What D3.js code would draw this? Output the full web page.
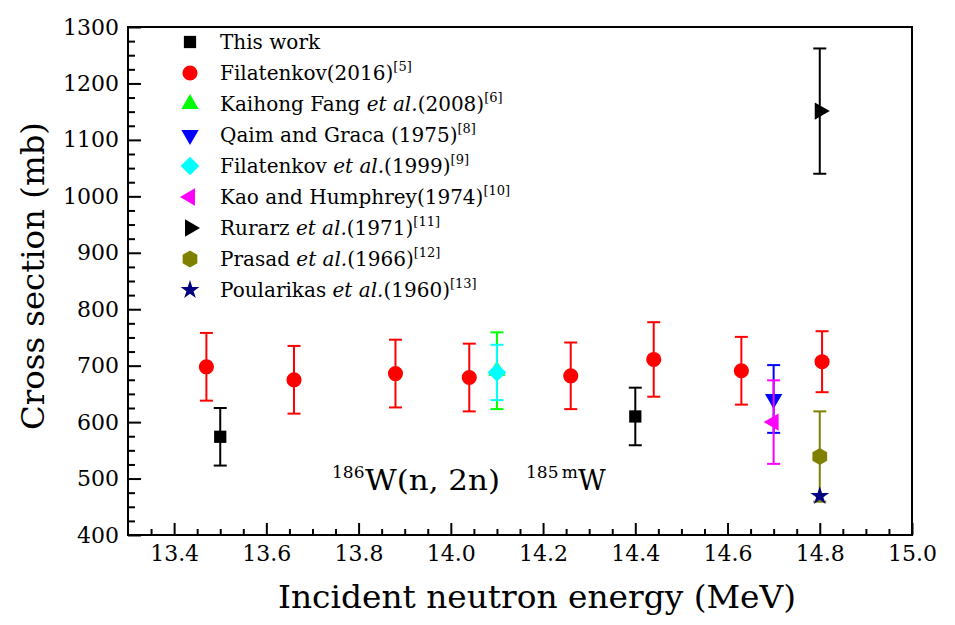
<!DOCTYPE html>
<html><head><meta charset="utf-8">
<script src="https://cdn.jsdelivr.net/npm/d3@7"></script>
<style>body{margin:0;background:#fff}svg{display:block}</style>
</head><body>
<svg id="c" width="955" height="625"></svg>
<script>
// ---------- data ----------
const xMajorTicks = [13.4, 13.6, 13.8, 14.0, 14.2, 14.4, 14.6, 14.8, 15.0];
const yMajorTicks = [400, 500, 600, 700, 800, 900, 1000, 1100, 1200, 1300];

const thisWorkE = [13.5, 14.4];
const thisWorkV = [574, 610];
const thisWorkErr = [51, 51];

const filat2016E = [13.47, 13.66, 13.88, 14.04, 14.26, 14.44, 14.63, 14.805];
const filat2016V = [698, 675, 686, 679, 682, 711, 691, 707];
const filat2016Err = [60, 60, 60, 60, 59, 66, 60, 54];

const fang2008E = [14.1];
const fang2008V = [691];
const fang2008Err = [68];

const qaim1975E = [14.7];
const qaim1975V = [641];
const qaim1975Err = [60];

const filat1999E = [14.1];
const filat1999V = [688];
const filat1999Err = [49];

const kao1974E = [14.7];
const kao1974V = [600];
const kao1974Err = [74];

const rurarz1971E = [14.8];
const rurarz1971V = [1151];
const rurarz1971Err = [111];

const prasad1966E = [14.8];
const prasad1966V = [539];
const prasad1966Err = [80];

const poularikas1960E = [14.8];
const poularikas1960V = [469];
const poularikas1960Err = [0];

const legendNames = [
  ["This work", "", "", ""],
  ["Filatenkov(2016)", "", "", "[5]"],
  ["Kaihong Fang ", "et al.", "(2008)", "[6]"],
  ["Qaim and Graca (1975)", "", "", "[8]"],
  ["Filatenkov ", "et al.", "(1999)", "[9]"],
  ["Kao and Humphrey(1974)", "", "", "[10]"],
  ["Rurarz ", "et al.", "(1971)", "[11]"],
  ["Prasad ", "et al.", "(1966)", "[12]"],
  ["Poularikas ", "et al.", "(1960)", "[13]"]
];

// ---------- setup ----------
const svg = d3.select("#c");
const L = 128, R = 912, T = 27, B = 535;
const x = d3.scaleLinear().domain([13.3, 15.0]).range([L, R]);
const y = d3.scaleLinear().domain([400, 1300]).range([B, T]);
const FONT = "DejaVu Serif";

svg.append("rect").attr("width", 955).attr("height", 625).attr("fill", "#fff");

// minor ticks
const xMinor = d3.range(13.35, 15.0, 0.05).filter(v => !xMajorTicks.some(m => Math.abs(m - v) < 1e-6));
const yMinor = d3.range(425, 1300, 25).filter(v => v % 100 !== 0);

const gx = svg.append("g").attr("transform", `translate(0,${B})`);
gx.call(d3.axisBottom(x).tickValues(xMajorTicks).tickSize(-12).tickPadding(10).tickFormat(d3.format(".1f")));
const gx2 = svg.append("g").attr("transform", `translate(0,${B})`);
gx2.call(d3.axisBottom(x).tickValues(xMinor).tickSize(-6).tickFormat(""));

const gy = svg.append("g").attr("transform", `translate(${L},0)`);
gy.call(d3.axisLeft(y).tickValues(yMajorTicks).tickSize(-13).tickPadding(9).tickFormat(d3.format("d")));
const gy2 = svg.append("g").attr("transform", `translate(${L},0)`);
gy2.call(d3.axisLeft(y).tickValues(yMinor).tickSize(-7).tickFormat(""));

svg.selectAll(".domain").remove();
svg.selectAll(".tick line").attr("stroke", "#000").attr("stroke-width", 2);
svg.selectAll(".tick text").attr("font-family", FONT).attr("font-size", 22).attr("fill", "#000");

// frame
svg.append("rect").attr("x", L).attr("y", T).attr("width", R - L).attr("height", B - T)
  .attr("fill", "none").attr("stroke", "#000").attr("stroke-width", 2);

// axis titles
svg.append("text").attr("x", 537).attr("y", 608).attr("text-anchor", "middle")
  .attr("font-family", FONT).attr("font-size", 32).attr("textLength", 518)
  .attr("lengthAdjust", "spacingAndGlyphs").text("Incident neutron energy (MeV)");
svg.append("text").attr("transform", "translate(33,276) rotate(-90)").attr("text-anchor", "middle")
  .attr("dominant-baseline", "central")
  .attr("font-family", FONT).attr("font-size", 32).attr("textLength", 308)
  .attr("lengthAdjust", "spacingAndGlyphs").text("Cross section (mb)");

// ---------- markers ----------
const hexPath = r => {
  const pts = d3.range(6).map(i => {
    const a = Math.PI / 2 + i * Math.PI / 3;
    return [r * Math.cos(a), r * Math.sin(a)];
  });
  return "M" + pts.map(p => p.join(",")).join("L") + "Z";
};
const markers = [
  { p: d3.symbol(d3.symbolSquare, 150)(), rot: 0, color: "#000000" },
  { p: d3.symbol(d3.symbolCircle, 180)(), rot: 0, color: "#ff0000" },
  { p: d3.symbol(d3.symbolTriangle, 130)(), rot: 0, color: "#00ff00" },
  { p: d3.symbol(d3.symbolTriangle, 130)(), rot: 180, color: "#0000ff" },
  { p: d3.symbol(d3.symbolSquare, 175)(), rot: 45, color: "#00ffff" },
  { p: d3.symbol(d3.symbolTriangle, 130)(), rot: -90, color: "#ff00ff" },
  { p: d3.symbol(d3.symbolTriangle, 130)(), rot: 90, color: "#000000" },
  { p: hexPath(8.5), rot: 0, color: "#808000" },
  { p: d3.symbol(d3.symbolStar, 110)(), rot: 0, color: "#000080" }
];

const series = [
  [thisWorkE, thisWorkV, thisWorkErr],
  [filat2016E, filat2016V, filat2016Err],
  [fang2008E, fang2008V, fang2008Err],
  [qaim1975E, qaim1975V, qaim1975Err],
  [filat1999E, filat1999V, filat1999Err],
  [kao1974E, kao1974V, kao1974Err],
  [rurarz1971E, rurarz1971V, rurarz1971Err],
  [prasad1966E, prasad1966V, prasad1966Err],
  [poularikas1960E, poularikas1960V, poularikas1960Err]
];

const plot = svg.append("g");
series.forEach(([E, V, Er], si) => {
  const m = markers[si];
  const pts = E.map((e, i) => ({ e, v: V[i], err: Er[i] }));
  const g = plot.append("g");
  const eg = g.selectAll("g.err").data(pts.filter(d => d.err > 0)).join("g")
    .attr("stroke", m.color).attr("stroke-width", 2).attr("fill", "none");
  eg.append("line").attr("x1", d => x(d.e)).attr("x2", d => x(d.e))
    .attr("y1", d => y(d.v - d.err)).attr("y2", d => y(d.v + d.err));
  eg.append("line").attr("x1", d => x(d.e) - 6.5).attr("x2", d => x(d.e) + 6.5)
    .attr("y1", d => y(d.v + d.err)).attr("y2", d => y(d.v + d.err));
  eg.append("line").attr("x1", d => x(d.e) - 6.5).attr("x2", d => x(d.e) + 6.5)
    .attr("y1", d => y(d.v - d.err)).attr("y2", d => y(d.v - d.err));
  g.selectAll("path.mk").data(pts).join("path").attr("class", "mk")
    .attr("d", m.p).attr("fill", m.color)
    .attr("transform", d => `translate(${x(d.e)},${y(d.v)}) rotate(${m.rot})`);
});

// ---------- legend ----------
const lg = svg.append("g");
legendNames.forEach((n, i) => {
  const ry = 42 + i * 31;
  const m = markers[i];
  lg.append("path").attr("d", m.p).attr("fill", m.color)
    .attr("transform", `translate(190,${ry}) rotate(${m.rot})`);
  const t = lg.append("text").attr("x", 220).attr("y", ry + 7)
    .attr("font-family", FONT).attr("font-size", 20).attr("fill", "#000");
  t.append("tspan").text(n[0]);
  if (n[1]) t.append("tspan").attr("font-style", "italic").text(n[1]);
  if (n[2]) t.append("tspan").text(n[2]);
  if (n[3]) t.append("tspan").attr("font-size", 13).attr("dy", -9).text(n[3]);
});

// ---------- annotation ----------
const annot = [
  { t: "186", x: 332, y: 478, fs: 17 },
  { t: "W(n, 2n)", x: 365, y: 490, fs: 27, len: 135 },
  { t: "185\u2009m", x: 526, y: 478, fs: 17 },
  { t: "W", x: 578, y: 490, fs: 27 }
];
const at = svg.append("g").selectAll("text").data(annot).join("text")
  .attr("x", d => d.x).attr("y", d => d.y).attr("font-size", d => d.fs)
  .attr("font-family", FONT).attr("fill", "#000").text(d => d.t);
at.filter(d => d.len).attr("textLength", d => d.len).attr("lengthAdjust", "spacingAndGlyphs");
</script>
</body></html>
